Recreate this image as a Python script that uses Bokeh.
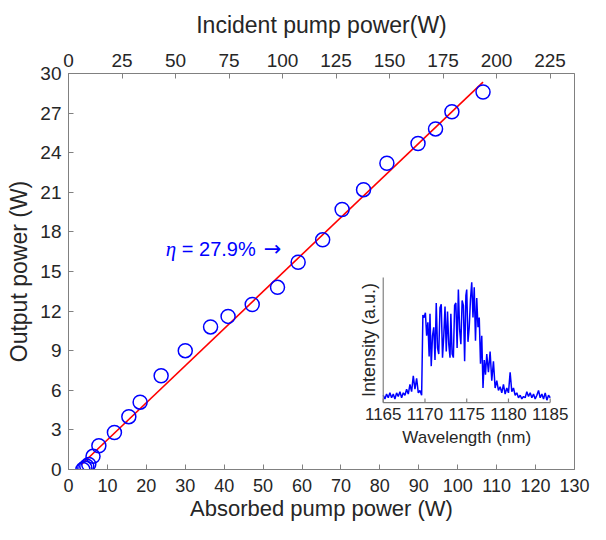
from bokeh.plotting import figure
from bokeh.models import Range1d, LinearAxis, FixedTicker
from bokeh.core.properties import value
from bokeh.embed import file_html
from bokeh.resources import INLINE

# ---------------- data ----------------
absorbed_w = [3.7, 4.2, 4.7, 5.2, 6.3, 7.8, 11.8, 15.5, 18.4, 23.8, 30.0, 36.5,
              41.0, 47.2, 53.7, 59.0, 65.3, 70.3, 75.8, 81.8, 89.8, 94.3, 98.5, 106.5]
output_w = [0.0, 0.12, 0.25, 0.38, 1.0, 1.8, 2.8, 4.0, 5.1, 7.1, 9.0, 10.8,
            11.6, 12.5, 13.8, 15.7, 17.4, 19.7, 21.2, 23.2, 24.7, 25.8, 27.1, 28.6]
fit_absorbed = [3.4, 106.5]
fit_output = [0.4, 29.35]

x_ticks = [0, 10, 20, 30, 40, 50, 60, 70, 80, 90, 100, 110, 120, 130]
y_ticks = [0, 3, 6, 9, 12, 15, 18, 21, 24, 27, 30]
top_ticks = [0, 25, 50, 75, 100, 125, 150, 175, 200, 225]
absorbed_max = 130
output_max = 30
incident_max = 236.4   # incident power at the right edge of the frame

eta_symbol = "η"
eta_value = "= 27.9%"
eta_arrow = "→"

spec_wl = [1165.0, 1165.2, 1165.4, 1165.6, 1165.8, 1166.0, 1166.2, 1166.4, 1166.6, 1166.8,
           1167.0, 1167.2, 1167.4, 1167.6, 1167.8, 1168.0, 1168.2, 1168.4, 1168.6, 1168.8,
           1169.0, 1169.2, 1169.4, 1169.6, 1169.75, 1169.9, 1170.05, 1170.2, 1170.35, 1170.5,
           1170.6, 1170.75, 1170.9, 1171.05, 1171.2, 1171.35, 1171.5, 1171.65, 1171.8, 1171.95,
           1172.1, 1172.25, 1172.4, 1172.55, 1172.7, 1172.85, 1173.0, 1173.1, 1173.25, 1173.4,
           1173.55, 1173.7, 1173.85, 1174.0, 1174.15, 1174.3, 1174.45, 1174.6, 1174.75, 1174.9,
           1175.0, 1175.15, 1175.3, 1175.45, 1175.6, 1175.75, 1175.9, 1176.05, 1176.2, 1176.35,
           1176.5, 1176.65, 1176.8, 1176.95, 1177.1, 1177.25, 1177.4, 1177.6, 1177.8, 1178.0,
           1178.2, 1178.4, 1178.6, 1178.8, 1179.0, 1179.2, 1179.4, 1179.6, 1179.8, 1180.0,
           1180.2, 1180.4, 1180.6, 1180.8, 1181.0, 1181.2, 1181.4, 1181.6, 1181.8, 1182.0,
           1182.2, 1182.4, 1182.6, 1182.8, 1183.0, 1183.2, 1183.4, 1183.6, 1183.8, 1184.0,
           1184.2, 1184.4, 1184.6, 1184.8, 1185.0]
spec_int = [0.06, 0.03, 0.07, 0.04, 0.08, 0.04, 0.07, 0.03, 0.08, 0.05,
            0.09, 0.04, 0.08, 0.06, 0.11, 0.07, 0.15, 0.09, 0.22, 0.11,
            0.20, 0.08, 0.10, 0.06, 0.72, 0.70, 0.74, 0.55, 0.66, 0.38,
            0.73, 0.30, 0.55, 0.62, 0.35, 0.82, 0.45, 0.40, 0.78, 0.81,
            0.37, 0.55, 0.79, 0.42, 0.75, 0.48, 0.37, 0.73, 0.40, 0.37,
            0.80, 0.82, 0.45, 0.93, 0.60, 0.48, 0.84, 0.80, 0.34, 0.88,
            0.93, 0.50, 0.62, 0.85, 0.99, 0.70, 0.95, 0.51, 0.86, 0.62,
            0.70, 0.32, 0.55, 0.12, 0.35, 0.23, 0.40, 0.25, 0.42, 0.18,
            0.34, 0.12, 0.18, 0.10, 0.13, 0.08, 0.15, 0.07, 0.12, 0.08,
            0.25, 0.09, 0.12, 0.06, 0.08, 0.04, 0.06, 0.03, 0.05, 0.04,
            0.09, 0.05, 0.08, 0.04, 0.07, 0.03, 0.06, 0.10, 0.04, 0.07,
            0.03, 0.08, 0.02, 0.06, 0.04]
inset_ticks = [1165, 1170, 1175, 1180, 1185]
inset_xlim = [1165, 1185]
inset_ylim = [0, 1.03]

# ---------------- style / layout ----------------
FONT = "Liberation Sans"
TXT = "#262626"
AX = "#808080"
BLUE = "#0000ff"
RED = "#ff0000"

# inset box as fractions of the main frame (left, right, bottom, top)
INSET_BOX = (0.622, 0.952, 0.169, 0.485)

p = figure(width=590, height=524, output_backend="svg", toolbar_location=None,
           x_range=Range1d(0, absorbed_max), y_range=Range1d(0, output_max),
           min_border_left=68, min_border_right=16, min_border_top=73, min_border_bottom=55)
p.xgrid.visible = False
p.ygrid.visible = False
p.outline_line_color = AX
p.outline_line_alpha = 1.0
p.background_fill_color = "white"
p.border_fill_color = "white"


def style_axis(ax, standoff, label_standoff, tick_size="19px", label_size="23px"):
    ax.axis_line_color = AX
    ax.major_tick_line_color = AX
    ax.major_tick_in = 5
    ax.major_tick_out = 0
    ax.minor_tick_line_color = None
    ax.major_label_text_font = FONT
    ax.major_label_text_font_size = tick_size
    ax.major_label_text_color = TXT
    ax.major_label_standoff = standoff
    ax.axis_label_text_font = FONT
    ax.axis_label_text_font_size = label_size
    ax.axis_label_text_font_style = "normal"
    ax.axis_label_text_color = TXT
    ax.axis_label_standoff = label_standoff


p.xaxis.ticker = FixedTicker(ticks=x_ticks)
p.yaxis.ticker = FixedTicker(ticks=y_ticks)
p.xaxis.axis_label = "Absorbed pump power (W)"
p.yaxis.axis_label = "Output power (W)"
style_axis(p.xaxis[0], 9, 1, "18px", "22px")
style_axis(p.yaxis[0], 7, 5)

p.extra_x_ranges = {"incident": Range1d(0, incident_max)}
top = LinearAxis(x_range_name="incident", axis_label="Incident pump power(W)",
                 ticker=FixedTicker(ticks=top_ticks))
style_axis(top, 7, 13)
p.add_layout(top, "above")

# fit line and measured points
p.line(fit_absorbed, fit_output, line_color=RED, line_width=1.6)
p.scatter(absorbed_w, output_w, marker="circle", size=14, fill_color=None,
          line_color=BLUE, line_width=1.5)

# slope annotation
ann_x, ann_y = 25.0, 16.7
p.text(x=[ann_x], y=[ann_y], text=[eta_symbol], text_font=value("Liberation Serif"),
       text_font_style="italic", text_font_size="21px", text_color=BLUE,
       text_baseline="middle", text_align="left")
p.text(x=[ann_x], y=[ann_y], text=[eta_value], x_offset=16, text_font=value(FONT),
       text_font_size="20px", text_color=BLUE, text_baseline="middle", text_align="left")
p.text(x=[ann_x], y=[ann_y], text=[eta_arrow], x_offset=98, text_font=value("DejaVu Sans"),
       text_font_size="21px", text_color=BLUE, text_baseline="middle", text_align="left")

# ---------------- inset (spectrum) ----------------
l, r, b, t = INSET_BOX
xspan = (inset_xlim[1] - inset_xlim[0]) / (r - l)
x0 = inset_xlim[0] - l * xspan
yspan = (inset_ylim[1] - inset_ylim[0]) / (t - b)
y0 = inset_ylim[0] - b * yspan
p.extra_x_ranges["ins_x"] = Range1d(x0, x0 + xspan)
p.extra_y_ranges = {"ins_y": Range1d(y0, y0 + yspan)}
ins = dict(x_range_name="ins_x", y_range_name="ins_y")

p.line(spec_wl, spec_int, line_color=BLUE, line_width=1.5, **ins)
p.line([inset_xlim[0], inset_xlim[0], inset_xlim[1]],
       [inset_ylim[1], inset_ylim[0], inset_ylim[0]], line_color=AX, line_width=1.2, **ins)
p.ray(x=inset_ticks, y=[inset_ylim[0]] * len(inset_ticks), length=4, angle=90,
      angle_units="deg", length_units="screen", line_color=AX, line_width=1.2, **ins)
p.text(x=inset_ticks, y=[inset_ylim[0]] * len(inset_ticks), text=[str(v) for v in inset_ticks],
       y_offset=5, text_align="center", text_baseline="top", text_font=value(FONT),
       text_font_size="17px", text_color=TXT, **ins)
p.text(x=[sum(inset_xlim) / 2], y=[inset_ylim[0]], text=["Wavelength (nm)"], y_offset=25,
       text_align="center", text_baseline="top", text_font=value(FONT),
       text_font_size="17px", text_color=TXT, **ins)
p.text(x=[inset_xlim[0]], y=[sum(inset_ylim) / 2], text=["Intensity (a.u.)"], x_offset=-4,
       angle=90, angle_units="deg", text_align="center", text_baseline="bottom",
       text_font=value(FONT), text_font_size="18px", text_color=TXT, **ins)

open("out.html", "w").write(file_html(p, INLINE))
